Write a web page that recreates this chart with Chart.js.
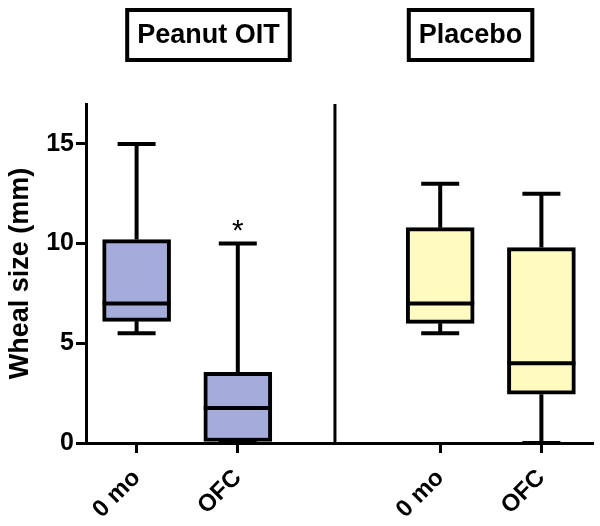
<!DOCTYPE html>
<html lang="en">
<head>
    <meta charset="UTF-8">
    <title>Wheal size box plot</title>
    <script src="https://cdn.jsdelivr.net/npm/chart.js"></script>
    <style>
        body {
            margin: 0;
            background-color: #ffffff;
        }
        .chart-container {
            width: 600px;
            height: 526px;
        }
    </style>
</head>
<body>
    <div class="chart-container">
        <canvas id="boxChart"></canvas>
    </div>

    <script>
        // data (mm)
        const categories = ['0 mo', 'OFC', '', '0 mo', 'OFC'];
        const groups = ['Peanut OIT', 'Placebo'];
        const whiskerMin = [5.5, 0, null, 5.5, 0];
        const q1 = [6.1, 0, null, 6.0, 2.45];
        const median = [7.0, 1.75, null, 7.0, 4.0];
        const q3 = [10.2, 3.55, null, 10.8, 9.8];
        const whiskerMax = [15, 10, null, 13, 12.5];
        const sigMarks = [null, '*', null, null, null];
        const yTicks = [0, 5, 10, 15];
        const boxColors = ['#a5acdc', '#a5acdc', 'rgba(0,0,0,0)', '#fffbc0', '#fffbc0'];

        const FONT = "'Liberation Sans', Arial, sans-serif";

        const boxPlugin = {
            id: 'boxWhiskers',
            beforeDatasetsDraw(chart) {
                const ctx = chart.ctx;
                const x = chart.scales.x, y = chart.scales.y;
                ctx.save();
                ctx.strokeStyle = '#000';
                ctx.lineWidth = 4;
                ctx.lineCap = 'butt';
                categories.forEach((c, i) => {
                    if (q1[i] === null) return;
                    const px = x.getPixelForValue(i);
                    ctx.beginPath();
                    ctx.moveTo(px, y.getPixelForValue(q3[i]));
                    ctx.lineTo(px, y.getPixelForValue(whiskerMax[i]));
                    ctx.moveTo(px, y.getPixelForValue(q1[i]));
                    ctx.lineTo(px, y.getPixelForValue(whiskerMin[i]));
                    // caps
                    [whiskerMax[i], whiskerMin[i]].forEach(v => {
                        const py = y.getPixelForValue(v);
                        ctx.moveTo(px - 19, py);
                        ctx.lineTo(px + 19, py);
                    });
                    ctx.stroke();
                });
                ctx.restore();
            },
            afterDatasetsDraw(chart) {
                const ctx = chart.ctx;
                const x = chart.scales.x, y = chart.scales.y;
                const meta = chart.getDatasetMeta(0);
                const area = chart.chartArea;
                ctx.save();
                ctx.strokeStyle = '#000';
                ctx.lineWidth = 4;
                categories.forEach((c, i) => {
                    if (median[i] === null) return;
                    const bar = meta.data[i];
                    const py = y.getPixelForValue(median[i]);
                    ctx.beginPath();
                    ctx.moveTo(bar.x - bar.width / 2, py);
                    ctx.lineTo(bar.x + bar.width / 2, py);
                    ctx.stroke();
                });
                // separator between groups
                const sx = x.getPixelForValue(1.96);
                ctx.lineWidth = 3;
                ctx.beginPath();
                ctx.moveTo(sx, area.top);
                ctx.lineTo(sx, area.bottom);
                ctx.stroke();
                // significance marks
                ctx.fillStyle = '#000';
                ctx.font = '30px ' + FONT;
                ctx.textAlign = 'center';
                ctx.textBaseline = 'alphabetic';
                sigMarks.forEach((m, i) => {
                    if (!m) return;
                    ctx.fillText(m, x.getPixelForValue(i), y.getPixelForValue(whiskerMax[i]) - 4);
                });
                ctx.restore();
            },
            afterDraw(chart) {
                const ctx = chart.ctx;
                const x = chart.scales.x;
                const centers = [x.getPixelForValue(0.71), x.getPixelForValue(3.3)];
                ctx.save();
                ctx.font = 'bold 27px ' + FONT;
                ctx.textAlign = 'center';
                ctx.textBaseline = 'middle';
                ctx.fillStyle = '#000';
                ctx.strokeStyle = '#000';
                ctx.lineWidth = 4;
                groups.forEach((g, k) => {
                    const w = ctx.measureText(g).width + 20;
                    ctx.strokeRect(centers[k] - w / 2, 10, w, 50);
                    ctx.fillText(g, centers[k], 36);
                });
                ctx.restore();
            }
        };

        const ctx = document.getElementById('boxChart').getContext('2d');
        new Chart(ctx, {
            type: 'bar',
            data: {
                labels: categories,
                datasets: [{
                    data: categories.map((c, i) => q1[i] === null ? null : [q1[i], q3[i]]),
                    backgroundColor: boxColors,
                    borderColor: '#000',
                    borderWidth: 4,
                    borderSkipped: false,
                    barThickness: 68
                }]
            },
            options: {
                responsive: true,
                maintainAspectRatio: false,
                animation: false,
                layout: {
                    padding: { top: 104, right: 8, bottom: 0, left: 0 }
                },
                plugins: {
                    legend: { display: false },
                    tooltip: { enabled: false }
                },
                scales: {
                    x: {
                        afterFit: s => { s.height = 83; },
                        border: { display: true, color: '#000', width: 3 },
                        grid: {
                            offset: false,
                            drawOnChartArea: false,
                            tickLength: 10,
                            lineWidth: 3,
                            color: c => c.index === 2 ? 'rgba(0,0,0,0)' : '#000'
                        },
                        ticks: {
                            color: '#000',
                            maxRotation: 45,
                            minRotation: 45,
                            padding: 11,
                            font: { family: FONT, size: 24, weight: 'bold' }
                        }
                    },
                    y: {
                        min: 0,
                        max: 17,
                        afterFit: s => { s.width = 86; },
                        afterBuildTicks: s => { s.ticks = yTicks.map(v => ({ value: v })); },
                        border: { display: true, color: '#000', width: 3 },
                        grid: {
                            drawOnChartArea: false,
                            tickLength: 10,
                            lineWidth: 3,
                            color: '#000'
                        },
                        ticks: {
                            color: '#000',
                            padding: 2,
                            font: { family: FONT, size: 25, weight: 'bold' }
                        },
                        title: {
                            display: true,
                            text: 'Wheal size (mm)',
                            color: '#000',
                            padding: { top: 4, bottom: 0 },
                            font: { family: FONT, size: 27, weight: 'bold' }
                        }
                    }
                }
            },
            plugins: [boxPlugin]
        });
    </script>
</body>
</html>
